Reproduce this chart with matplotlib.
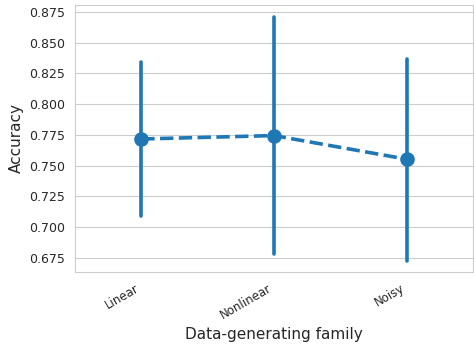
import matplotlib
matplotlib.use("Agg")
import matplotlib.pyplot as plt
import seaborn as sns

# Mean accuracy per data-generating family with interval bounds
families = ["Linear", "Nonlinear", "Noisy"]
acc_mean = [0.7717, 0.7745, 0.7553]
acc_low = [0.7091, 0.6783, 0.6726]
acc_high = [0.8343, 0.8705, 0.8368]

sns.set_style("whitegrid")
color = "#1f77b4"

fig, ax = plt.subplots(figsize=(4.74, 3.47), dpi=100)
fig.subplots_adjust(left=0.158, right=0.998, top=0.986, bottom=0.216)

x = list(range(len(families)))
ax.vlines(x, acc_low, acc_high, color=color, linewidth=2.6, capstyle="round", zorder=2)
ax.plot(x, acc_mean, "o", linestyle="--", dashes=(3.7, 1.5), color=color,
        linewidth=2.6, markersize=9.5, zorder=3)

ax.set_xlim(-0.5, 2.5)
ax.set_ylim(0.6636, 0.8807)
ax.set_yticks([0.675, 0.700, 0.725, 0.750, 0.775, 0.800, 0.825, 0.850, 0.875])
ax.set_xticks(x)
ax.set_xticklabels(families, rotation=30, ha="right", fontsize=8.5)
ax.tick_params(axis="y", labelsize=9)
ax.grid(axis="x", visible=False)
ax.set_xlabel("Data-generating family", fontsize=11)
ax.set_ylabel("Accuracy", fontsize=11)

fig.savefig("out.png", dpi=100, facecolor="white")
